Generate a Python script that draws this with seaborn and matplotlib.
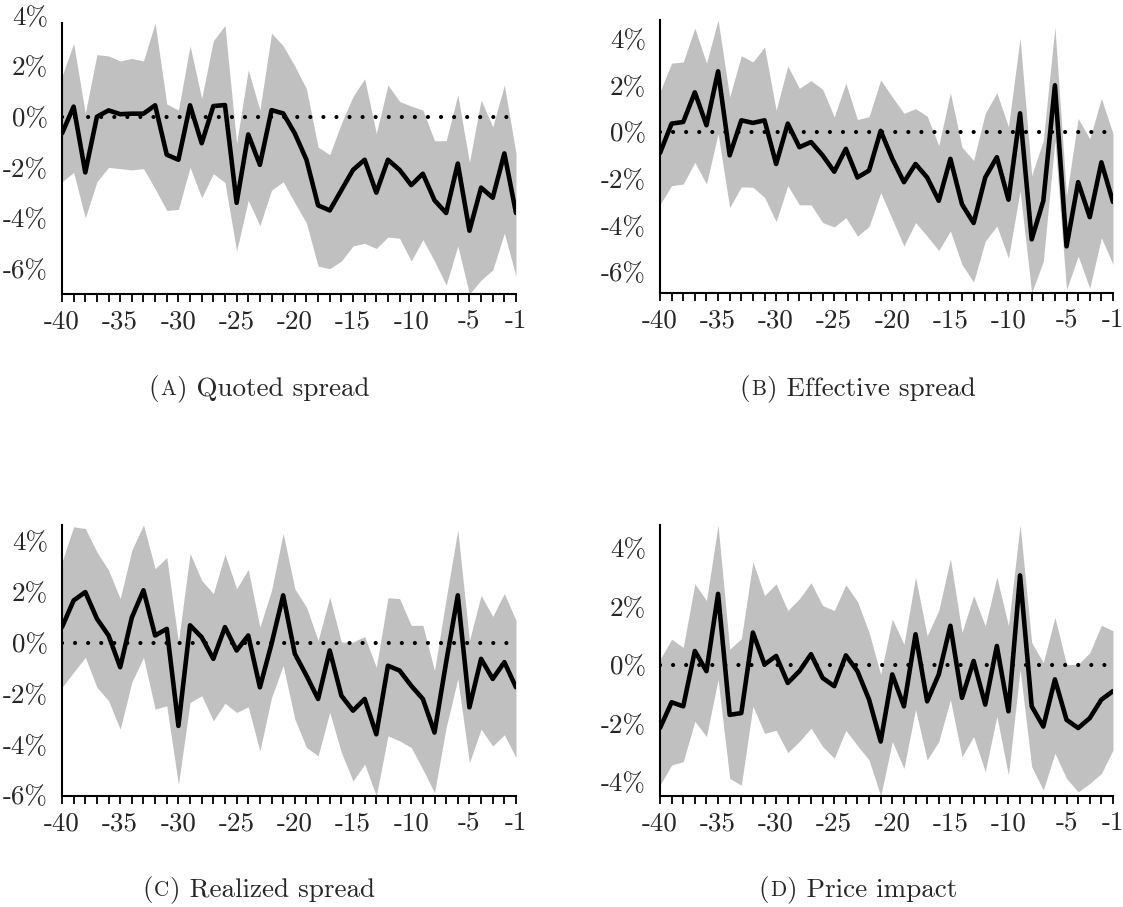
import matplotlib
matplotlib.use("Agg")
import matplotlib.pyplot as plt
import seaborn as sns
import pandas as pd

# ---------------- data (percent) ----------------
days = list(range(-40, 0))

quoted_mean = [-0.66, 0.4, -2.2, 0.0, 0.25, 0.1, 0.12, 0.12, 0.45, -1.5, -1.7, 0.45, -1.05, 0.42, 0.46,
               -3.4, -0.7, -1.9, 0.26, 0.13, -0.66, -1.7, -3.5, -3.7, -2.9, -2.1, -1.7, -3.0, -1.7, -2.1,
               -2.7, -2.25, -3.3, -3.8, -1.85, -4.5, -2.8, -3.2, -1.45, -3.8]
quoted_upper = [1.6, 2.9, 0.13, 2.45, 2.4, 2.2, 2.3, 2.2, 3.7, 0.5, 0.26, 2.8, 0.72, 3.0, 3.6,
                -1.05, 1.85, 0.26, 3.3, 2.8, 2.0, 1.1, -1.2, -1.5, -0.26, 0.8, 1.5, -0.66, 1.25, 0.6,
                0.42, 0.26, -0.95, -0.95, 0.86, -1.8, 0.66, -0.4, 1.25, -1.45]
quoted_lower = [-2.57, -2.2, -4.0, -2.57, -2.0, -2.05, -2.1, -2.05, -2.85, -3.7, -3.66, -2.0, -3.2, -2.25, -2.6,
                -5.3, -3.3, -4.3, -2.9, -2.57, -3.4, -4.2, -5.9, -6.0, -5.7, -5.1, -5.0, -5.2, -4.75, -4.8,
                -5.7, -4.85, -5.7, -6.65, -5.1, -7.0, -6.45, -6.05, -4.6, -6.3]

effective_mean = [-0.9, 0.36, 0.43, 1.7, 0.29, 2.6, -1.0, 0.5, 0.39, 0.5, -1.37, 0.36, -0.65, -0.43, -1.0,
                  -1.7, -0.72, -1.95, -1.65, 0.05, -1.15, -2.15, -1.37, -1.95, -2.95, -1.15, -3.1, -3.9, -1.95,
                  -1.08, -2.9, 0.8, -4.6, -2.95, 2.0, -4.9, -2.15, -3.65, -1.3, -3.0]
effective_upper = [1.73, 2.95, 3.0, 4.45, 2.95, 4.8, 1.5, 3.27, 3.0, 3.64, 0.93, 2.83, 1.87, 2.2, 1.83,
                   0.65, 2.1, 0.53, 0.66, 2.23, 1.5, 0.8, 1.0, 0.68, -0.58, 1.68, -0.65, -1.22, 0.8,
                   1.68, 0.22, 4.03, -1.87, -0.36, 4.5, -2.73, 0.58, -0.29, 1.44, -0.07]
effective_lower = [-3.1, -2.3, -2.23, -1.3, -2.23, -0.07, -3.24, -2.35, -2.37, -2.8, -3.84, -2.3, -3.12, -3.12, -3.88,
                   -4.07, -3.67, -4.46, -4.05, -2.6, -3.74, -4.89, -3.88, -4.46, -5.08, -4.24, -5.68, -6.43, -4.68,
                   -4.03, -5.4, -2.52, -6.9, -5.54, -0.36, -6.76, -5.32, -6.7, -4.53, -5.68]

realized_mean = [0.62, 1.67, 2.0, 0.95, 0.29, -0.96, 1.0, 2.07, 0.29, 0.55, -3.27, 0.69, 0.22, -0.63, 0.62,
                 -0.3, 0.29, -1.75, -0.04, 1.87, -0.43, -1.29, -2.21, -0.3, -2.08, -2.67, -2.21, -3.6, -0.9,
                 -1.09, -1.69, -2.21, -3.53, -0.76, 1.87, -2.54, -0.63, -1.42, -0.76, -1.75]
realized_upper = [3.19, 4.57, 4.5, 3.58, 2.86, 1.74, 3.65, 4.64, 2.92, 3.36, 0.03, 3.52, 2.46, 1.94, 3.49,
                  2.13, 2.89, 0.62, 2.07, 4.31, 2.13, 1.41, 0.09, 1.8, 0.03, 0.03, 0.25, -0.96, 1.78,
                  1.74, 0.69, 0.69, -1.09, 1.74, 4.44, 0.09, 1.87, 1.04, 1.94, 0.88]
realized_lower = [-1.75, -1.16, -0.57, -1.75, -2.28, -3.4, -1.55, -0.57, -2.61, -2.48, -5.57, -2.35, -2.08, -3.07, -2.38,
                  -2.74, -2.52, -4.26, -2.15, -0.9, -3.0, -4.12, -4.45, -2.74, -4.32, -5.44, -4.78, -6.03, -3.66,
                  -3.86, -4.12, -4.98, -5.9, -3.33, -1.42, -4.72, -3.4, -4.06, -3.62, -4.52]

impact_mean = [-2.15, -1.27, -1.41, 0.48, -0.21, 2.43, -1.7, -1.64, 1.11, 0.02, 0.31, -0.61, -0.21, 0.37, -0.44,
               -0.72, 0.33, -0.21, -1.18, -2.61, -0.32, -1.41, 1.05, -1.24, -0.32, 1.34, -1.12, 0.14, -1.35,
               0.65, -1.58, 3.06, -1.41, -2.1, -0.49, -1.87, -2.15, -1.81, -1.18, -0.89]
impact_upper = [0.19, 0.88, 0.6, 2.77, 2.2, 4.78, 0.54, 0.9, 3.52, 2.37, 2.77, 1.86, 2.26, 2.81, 2.03,
                1.86, 2.74, 2.17, 1.11, -0.32, 1.57, 0.71, 3.0, 1.0, 1.86, 3.63, 1.11, 2.37, 1.34,
                3.0, 1.34, 4.78, 0.77, 0.08, 1.63, 0.02, 0.02, 0.42, 1.36, 1.17]
impact_lower = [-4.1, -3.41, -3.3, -1.92, -2.44, -0.49, -3.87, -4.1, -1.41, -2.33, -2.23, -2.99, -2.61, -2.15, -2.78,
                -3.18, -2.23, -2.75, -3.24, -4.47, -2.61, -3.53, -1.52, -3.24, -2.61, -1.18, -3.13, -2.44, -3.64,
                -1.75, -3.76, -0.15, -3.47, -4.27, -3.01, -3.87, -4.33, -4.04, -3.7, -2.9]

panel_letters = ["A", "B", "C", "D"]
panel_titles = ["Quoted spread", "Effective spread", "Realized spread", "Price impact"]
panel_yticks = [[-6, -4, -2, 0, 2, 4], [-6, -4, -2, 0, 2, 4], [-6, -4, -2, 0, 2, 4], [-4, -2, 0, 2, 4]]
xtick_vals = [-40, -35, -30, -25, -20, -15, -10, -5, -1]

series = [(quoted_mean, quoted_upper, quoted_lower),
          (effective_mean, effective_upper, effective_lower),
          (realized_mean, realized_upper, realized_lower),
          (impact_mean, impact_upper, impact_lower)]

# ---------------- style ----------------
sns.set_style("white")
plt.rcParams["font.family"] = ["cmr10", "DejaVu Sans"]
plt.rcParams["axes.unicode_minus"] = False
plt.rcParams["lines.scale_dashes"] = False

W, H = 1123, 907
fig = plt.figure(figsize=(W / 100, H / 100), dpi=100)
FS = 19.5

# axes boxes in pixels: (left, top, right, bottom)
boxes = [(62, 23, 516, 294), (660, 20, 1113, 293), (62, 525, 516, 796), (660, 525, 1113, 796)]
captions_xy = [(259, 395), (858, 395), (259, 896), (858, 896)]

for i, (m, up, lo) in enumerate(series):
    l, t, r, b = boxes[i]
    ax = fig.add_axes([l / W, 1 - b / H, (r - l) / W, (b - t) / H])
    ax.fill_between(days, lo, up, color="#c0c0c0", linewidth=0, zorder=1)
    ax.axhline(0, color="black", lw=3.0, linestyle=(0, (0.01, 9.4)), dash_capstyle="round", zorder=2)
    df = pd.DataFrame({"day": days, "value": m})
    sns.lineplot(data=df, x="day", y="value", ax=ax, color="black", linewidth=3.3, zorder=3,
                 legend=False)
    ymin, ymax = min(lo), max(up)
    ax.set_xlim(-40, -1)
    ax.set_ylim(ymin, ymax)
    ax.set_xlabel("")
    ax.set_ylabel("")
    for s in ["top", "right"]:
        ax.spines[s].set_visible(False)
    for s in ["left", "bottom"]:
        ax.spines[s].set_linewidth(1.5)
        ax.spines[s].set_color("black")
    ax.set_xticks(days, minor=True)
    ax.set_xticks(xtick_vals)
    ax.set_xticklabels([str(v) for v in xtick_vals], fontsize=FS)
    ax.tick_params(axis="x", which="both", direction="out", length=6, width=1.3, color="black",
                   bottom=True, pad=5)
    yt = panel_yticks[i]
    inside = [v for v in yt if ymin - 1e-9 <= v <= ymax + 1e-9]
    outside = [v for v in yt if v not in inside]
    ax.set_yticks(inside)
    ax.set_yticklabels([f"{v}%" for v in inside], fontsize=FS)
    ax.tick_params(axis="y", length=0, pad=10)
    for v in outside:
        ax.annotate(f"{v}%", xy=(0, v), xycoords=("axes fraction", "data"), xytext=(-10, 0),
                    textcoords="offset points", ha="right", va="center_baseline", fontsize=FS,
                    annotation_clip=False)
    ax.grid(False)
    ax.set_facecolor("white")

# captions with small-caps panel letter
renderer = fig.canvas.get_renderer()
for i in range(4):
    xc, yb = captions_xy[i]
    yf = 1 - yb / H
    t1 = fig.text(0, yf, "(", fontsize=FS, va="baseline")
    t2 = fig.text(0, yf, panel_letters[i], fontsize=FS * 0.78, va="baseline")
    t3 = fig.text(0, yf, ") " + panel_titles[i], fontsize=FS, va="baseline")
    ws = [t.get_window_extent(renderer).width for t in (t1, t2, t3)]
    gap = 1.0
    total = sum(ws) + 2 * gap
    x = xc - total / 2
    for t, w in zip((t1, t2, t3), ws):
        t.set_x(x / W)
        x += w + gap

fig.savefig("out.png", dpi=100, facecolor="white")
